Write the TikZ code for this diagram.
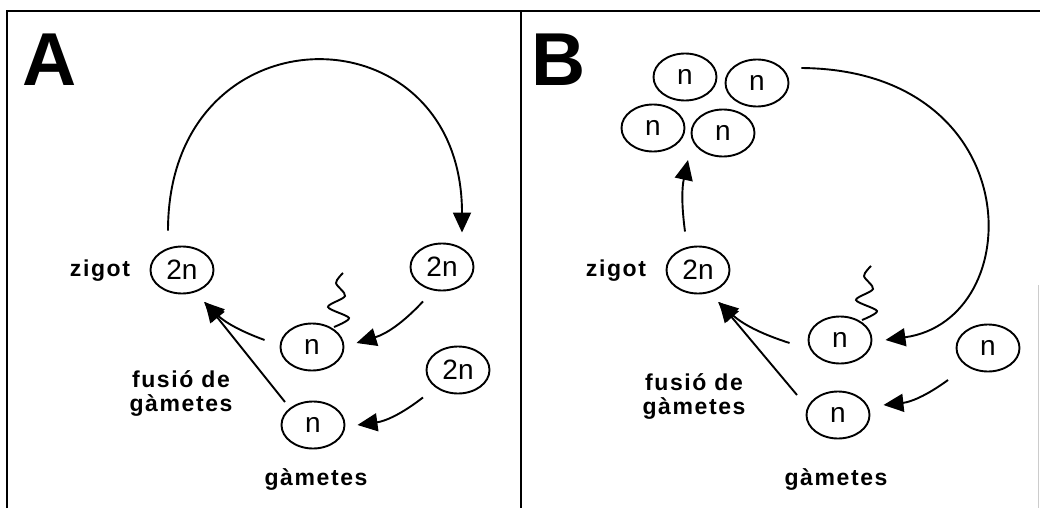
\documentclass[tikz,border=0pt]{standalone}
\usepackage{fontspec}
\setmainfont{Liberation Sans}
\usetikzlibrary{arrows.meta,shapes.geometric}
\tikzset{
  cell/.style={draw, ellipse, line width=1.9pt, minimum width=63pt, minimum height=47pt, inner sep=0pt, font=\fontsize{28}{28}\selectfont},
  lbl/.style={inner sep=0pt, font=\fontsize{23}{24}\selectfont\bfseries\addfontfeature{LetterSpace=7}},
  big/.style={inner sep=0pt, font=\fontsize{75}{75}\selectfont\bfseries},
  conn/.style={line width=1.9pt, -{Triangle[length=20pt,width=18pt]}},
  tail/.style={line width=1.9pt},
  panel/.style={line width=2pt}
}
\begin{document}
\begin{tikzpicture}[x=1pt,y=-1pt]
  \useasboundingbox (0,0) rectangle (1040,508);
  \draw [panel] (7,508) -- (7,11) -- (1040,11);
  \draw [panel] (521,11) -- (521,508);
  \draw [gray!40, line width=1pt] (1038,285) -- (1038,508);

  % A
  \node [big] (labA) at (50,60) {A};
  \node [cell] (zygA) at (182,270) {2n};
  \node [cell] (dipA1) at (442,267) {2n};
  \node [cell] (dipA2) at (458,370) {2n};
  \node [cell] (gamA1) at (312,347) {n};
  \node [cell] (gamA2) at (313,425) {n};
  \node [lbl] (zigA) at (100,271) {zigot};
  \node [lbl, align=center] (fusA) at (181,393) {fusió de\\gàmetes};
  \node [lbl] (gmtA) at (316,479) {gàmetes};
  \draw [conn] ([xshift=-14pt,yshift=15pt]zygA.north) .. controls (168,5) and (462,5) .. ([xshift=20pt,yshift=10pt]dipA1.north);
  \draw [conn] ([xshift=-19pt,yshift=-10pt]dipA1.south) to[bend left=15] ([xshift=12pt,yshift=4pt]gamA1.east);
  \draw [conn] ([xshift=-35pt,yshift=-3pt]dipA2.south) to[bend left=15] ([xshift=12pt]gamA2.east);
  \draw [conn] ([xshift=-15pt,yshift=7pt]gamA1.west) to[bend left=12] ([xshift=22pt,yshift=-32pt]zygA.center);
  \draw [conn] ([xshift=-28pt,yshift=23pt]gamA2.center) -- ([xshift=23pt,yshift=-32pt]zygA.center);

  % B
  \node [big] (labB) at (559,60) {B};
  \node [cell] (tetB1) at (685,77) {n};
  \node [cell] (tetB2) at (757,83) {n};
  \node [cell] (tetB3) at (653,128) {n};
  \node [cell] (tetB4) at (723,133) {n};
  \node [cell] (zygB) at (698,270) {2n};
  \node [cell] (gamB1) at (840,340) {n};
  \node [cell] (gamB2) at (838,415) {n};
  \node [cell] (gamB3) at (988,348) {n};
  \node [lbl] (zigB) at (616,271) {zigot};
  \node [lbl, align=center] (fusB) at (694,396) {fusió de\\gàmetes};
  \node [lbl] (gmtB) at (836,479) {gàmetes};
  \coordinate (splitB) at (688,160);
  \draw [conn] ([xshift=-13pt,yshift=14pt]zygB.north) to[bend left=10] (splitB);
  \draw [conn] ([xshift=12pt,yshift=15pt]tetB2.east) .. controls (1030,70) and (1030,320) .. ([xshift=13pt]gamB1.east);
  \draw [conn] ([xshift=-18pt,yshift=-3pt]gamB1.west) to[bend left=12] ([xshift=20pt,yshift=-32pt]zygB.center);
  \draw [conn] ([xshift=-41pt,yshift=20pt]gamB2.center) -- ([xshift=21pt,yshift=-32pt]zygB.center);
  \draw [conn] ([xshift=-40pt,yshift=-32pt]gamB3.center) to[bend left=15] ([xshift=13pt,yshift=10pt]gamB2.east);

  % tails
  \foreach \g in {gamA1, gamB1} {
    \draw [tail, shift={(\g.center)}] plot[smooth] coordinates {(31,-74) (24,-64) (33,-51) (16,-40) (37,-29) (22,-20)};
  }
\end{tikzpicture}
\end{document}
